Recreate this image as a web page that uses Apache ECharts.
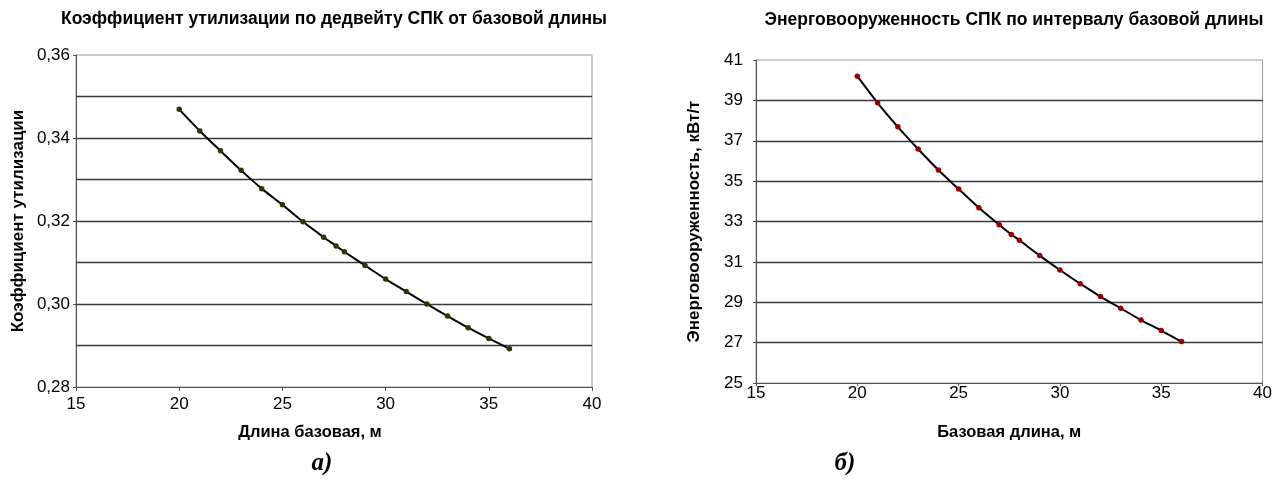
<!DOCTYPE html>
<html>
<head>
<meta charset="utf-8">
<script src="https://cdn.jsdelivr.net/npm/echarts@6/dist/echarts.min.js"></script>
<style>
html,body{margin:0;padding:0;background:#fff;}
#chart{width:1275px;height:481px;}
</style>
</head>
<body>
<div id="chart"></div>
<script>
// ---- Data ----
const baseLength = [20, 21, 22, 23, 24, 25, 26, 27, 27.6, 28, 29, 30, 31, 32, 33, 34, 35, 36];
const utilCoef = [0.3469, 0.3417, 0.3369, 0.3322, 0.3278, 0.3239, 0.3198, 0.3161, 0.3140, 0.3126, 0.3093, 0.3060, 0.3030, 0.3000, 0.2971, 0.2943, 0.2917, 0.2892];
const powerRatio = [40.20, 38.88, 37.69, 36.59, 35.55, 34.61, 33.68, 32.84, 32.36, 32.07, 31.31, 30.60, 29.92, 29.28, 28.70, 28.12, 27.60, 27.05];
const xTicks = [15, 20, 25, 30, 35, 40];
const leftYTicks = [0.28, 0.30, 0.32, 0.34, 0.36];
const leftYGrid = [0.28, 0.29, 0.30, 0.31, 0.32, 0.33, 0.34, 0.35, 0.36];
const rightYTicks = [25, 27, 29, 31, 33, 35, 37, 39, 41];
const titleLeft = 'Коэффициент утилизации по дедвейту СПК от базовой длины';
const titleRight = 'Энерговооруженность СПК по интервалу базовой длины';
const xNameLeft = 'Длина базовая, м';
const xNameRight = 'Базовая длина, м';
const yNameLeft = 'Коэффициент утилизации';
const yNameRight = 'Энерговооруженность, кВт/т';
const captionLeft = 'а)';
const captionRight = 'б)';

const FONT = '"Liberation Sans", Arial, sans-serif';
const SERIF = '"Liberation Serif", "Times New Roman", serif';
const chart = echarts.init(document.getElementById('chart'), null, {renderer: 'canvas'});

function pairs(xs, ys) { return xs.map((x, i) => [x, ys[i]]); }

const gridLineStyle = {color: '#3a3a3a', width: 1.3};
const axisLineStyle = {color: '#555', width: 1};

const option = {
  backgroundColor: '#fff',
  animation: false,
  title: [
    {text: titleLeft, left: 334, top: 10, textAlign: 'center', padding: 0,
     textStyle: {fontFamily: FONT, fontWeight: 'bold', fontSize: 17.5, color: '#000'}},
    {text: titleRight, left: 1014, top: 11, textAlign: 'center', padding: 0,
     textStyle: {fontFamily: FONT, fontWeight: 'bold', fontSize: 17.5, color: '#000'}},
    {text: captionLeft, left: 322, top: 451, textAlign: 'center', padding: 0,
     textStyle: {fontFamily: SERIF, fontWeight: 'bold', fontStyle: 'italic', fontSize: 25, color: '#000'}},
    {text: captionRight, left: 845, top: 451, textAlign: 'center', padding: 0,
     textStyle: {fontFamily: SERIF, fontWeight: 'bold', fontStyle: 'italic', fontSize: 25, color: '#000'}}
  ],
  grid: [
    {left: 76, right: 683, top: 55, bottom: 94, show: true, borderColor: '#999', borderWidth: 1, backgroundColor: '#fff'},
    {left: 756, right: 3, top: 60, bottom: 98, show: true, borderColor: '#999', borderWidth: 1, backgroundColor: '#fff'}
  ],
  xAxis: [
    {type: 'value', gridIndex: 0, min: 15, max: 40, interval: 5,
     name: xNameLeft, nameLocation: 'middle', nameGap: 37,
     nameTextStyle: {fontFamily: FONT, fontWeight: 'bold', fontSize: 16.5, color: '#000', padding: [0, 48, 0, 0]},
     axisLine: {show: true, lineStyle: axisLineStyle},
     axisTick: {show: true, length: 4, inside: false, lineStyle: axisLineStyle},
     axisLabel: {fontFamily: FONT, fontSize: 17, color: '#000', margin: 9, formatter: v => String(v)},
     splitLine: {show: false}},
    {type: 'value', gridIndex: 1, min: 15, max: 40, interval: 5,
     name: xNameRight, nameLocation: 'middle', nameGap: 41,
     nameTextStyle: {fontFamily: FONT, fontWeight: 'bold', fontSize: 16.5, color: '#000'},
     axisLine: {show: true, lineStyle: axisLineStyle},
     axisTick: {show: true, length: 3, lineStyle: axisLineStyle},
     axisLabel: {fontFamily: FONT, fontSize: 17, color: '#000', margin: 2, formatter: v => String(v)},
     splitLine: {show: false}}
  ],
  yAxis: [
    {type: 'value', gridIndex: 0, min: 0.28, max: 0.36,
     axisTick: {show: true, length: 3, customValues: leftYTicks, lineStyle: axisLineStyle},
     axisLabel: {fontFamily: FONT, fontSize: 17, color: '#000', margin: 6, customValues: leftYTicks,
       formatter: v => v.toFixed(2).replace('.', ',')},
     axisLine: {show: true, lineStyle: axisLineStyle},
     splitLine: {show: false},
     name: yNameLeft, nameLocation: 'middle', nameGap: 49,
     nameTextStyle: {fontFamily: FONT, fontWeight: 'bold', fontSize: 17, color: '#000'}},
    {type: 'value', gridIndex: 1, min: 25, max: 41,
     axisTick: {show: true, length: 3, customValues: rightYTicks, lineStyle: axisLineStyle},
     axisLabel: {fontFamily: FONT, fontSize: 17, color: '#000', margin: 13, customValues: rightYTicks,
       formatter: v => String(v)},
     axisLine: {show: true, lineStyle: axisLineStyle},
     splitLine: {show: false},
     name: yNameRight, nameLocation: 'middle', nameGap: 53,
     nameTextStyle: {fontFamily: FONT, fontWeight: 'bold', fontSize: 17, color: '#000'}}
  ],
  series: [
    // horizontal gridlines drawn as markLines through the axis scale
    {type: 'line', xAxisIndex: 0, yAxisIndex: 0, data: [], silent: true,
     markLine: {silent: true, symbol: 'none', label: {show: false}, lineStyle: {color: gridLineStyle.color, width: gridLineStyle.width, type: 'solid'},
       data: leftYGrid.slice(1, -1).map(v => ({yAxis: v}))}},
    {type: 'line', xAxisIndex: 1, yAxisIndex: 1, data: [], silent: true,
     markLine: {silent: true, symbol: 'none', label: {show: false}, lineStyle: {color: gridLineStyle.color, width: gridLineStyle.width, type: 'solid'},
       data: rightYTicks.slice(1, -1).map(v => ({yAxis: v}))}},
    {type: 'line', name: yNameLeft, xAxisIndex: 0, yAxisIndex: 0, data: pairs(baseLength, utilCoef),
     smooth: 0.3, symbol: 'circle', symbolSize: 5.5,
     lineStyle: {color: '#000', width: 2},
     itemStyle: {color: '#333300', borderColor: '#333300', borderWidth: 0}, z: 5},
    {type: 'line', name: yNameRight, xAxisIndex: 1, yAxisIndex: 1, data: pairs(baseLength, powerRatio),
     smooth: 0.3, symbol: 'circle', symbolSize: 5.5,
     lineStyle: {color: '#000', width: 2},
     itemStyle: {color: '#990000', borderColor: '#990000', borderWidth: 0}, z: 5}
  ]
};
chart.setOption(option);
</script>
</body>
</html>
